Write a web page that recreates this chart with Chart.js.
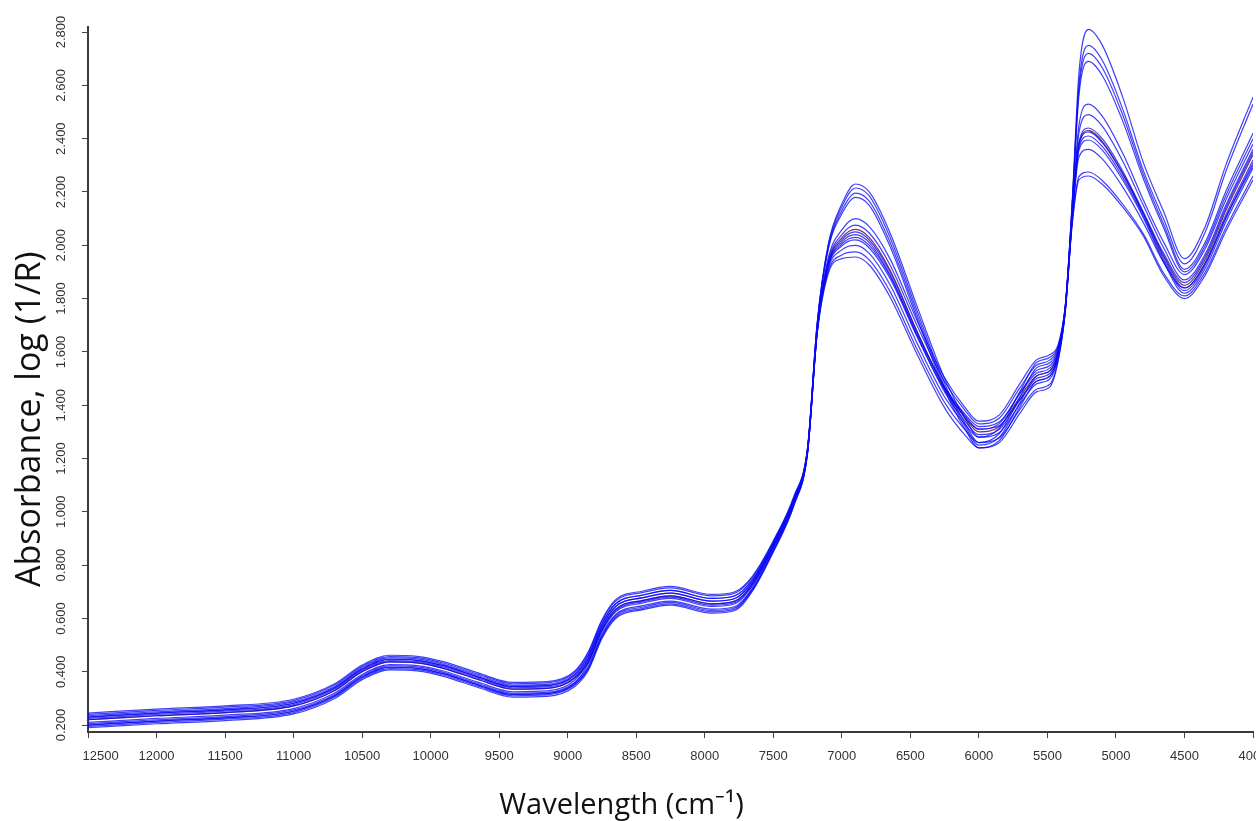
<!DOCTYPE html>
<html><head><meta charset="utf-8">
<script src="https://cdn.jsdelivr.net/npm/chart.js@4.4.1/dist/chart.umd.min.js"></script>
<style>html,body{margin:0;padding:0;background:#fff;overflow:hidden;}</style>
</head><body>
<canvas id="c" width="1256" height="821"></canvas>
<script>
// Wavenumbers (cm-1), descending
const wavenumbers = [12500,12000,11500,11000,10700,10500,10300,10100,9900,9650,9400,9150,8950,8850,8750,8650,8450,8250,7950,7780,7650,7500,7350,7250,7180,7100,7000,6900,6800,6650,6450,6250,6100,6000,5850,5700,5580,5480,5420,5370,5320,5270,5200,5100,4950,4800,4650,4500,4350,4200,4000];

// Absorbance spectra
const specA1 = [0.240,0.255,0.267,0.292,0.350,0.420,0.457,0.453,0.432,0.390,0.355,0.358,0.397,0.470,0.590,0.665,0.698,0.715,0.685,0.695,0.756,0.888,1.055,1.239,1.707,2.002,2.155,2.230,2.200,2.049,1.770,1.500,1.350,1.280,1.314,1.452,1.560,1.580,1.625,1.770,2.157,2.646,2.810,2.751,2.555,2.310,2.124,1.950,2.069,2.298,2.556];
const specA2 = [0.230,0.245,0.257,0.282,0.340,0.410,0.447,0.443,0.422,0.380,0.345,0.348,0.387,0.460,0.580,0.655,0.688,0.705,0.675,0.685,0.748,0.882,1.050,1.236,1.705,1.996,2.144,2.215,2.185,2.032,1.753,1.482,1.331,1.260,1.294,1.432,1.540,1.560,1.615,1.766,2.148,2.604,2.750,2.694,2.510,2.280,2.096,1.930,2.048,2.274,2.530];
const specA3 = [0.220,0.235,0.247,0.272,0.330,0.400,0.437,0.433,0.412,0.370,0.335,0.338,0.377,0.450,0.570,0.645,0.678,0.695,0.665,0.675,0.740,0.876,1.045,1.233,1.702,1.988,2.130,2.196,2.166,2.014,1.738,1.469,1.320,1.250,1.280,1.410,1.510,1.530,1.600,1.760,2.144,2.583,2.720,2.666,2.488,2.265,2.077,1.910,2.010,2.200,2.420];
const specA4 = [0.210,0.225,0.237,0.262,0.320,0.390,0.427,0.423,0.402,0.360,0.325,0.328,0.367,0.440,0.560,0.635,0.668,0.685,0.655,0.665,0.732,0.870,1.040,1.230,1.700,1.982,2.118,2.180,2.150,1.998,1.724,1.457,1.309,1.240,1.268,1.394,1.490,1.510,1.590,1.756,2.139,2.562,2.690,2.637,2.465,2.250,2.063,1.900,1.998,2.184,2.400];
const specB1 = [0.245,0.260,0.272,0.297,0.355,0.425,0.462,0.458,0.437,0.395,0.360,0.363,0.402,0.475,0.595,0.670,0.703,0.720,0.690,0.700,0.760,0.891,1.058,1.241,1.688,1.950,2.058,2.100,2.070,1.951,1.716,1.503,1.391,1.340,1.364,1.482,1.570,1.590,1.630,1.772,2.115,2.450,2.530,2.485,2.345,2.170,2.010,1.890,1.986,2.168,2.380];
const specB2 = [0.235,0.250,0.262,0.287,0.345,0.415,0.452,0.448,0.427,0.385,0.350,0.353,0.391,0.460,0.580,0.655,0.688,0.705,0.675,0.685,0.748,0.882,1.050,1.236,1.684,1.940,2.040,2.076,2.046,1.928,1.698,1.489,1.380,1.330,1.352,1.466,1.550,1.570,1.620,1.768,2.109,2.422,2.490,2.447,2.315,2.150,1.988,1.870,1.966,2.148,2.360];
const specB3 = [0.200,0.215,0.227,0.252,0.310,0.380,0.417,0.413,0.392,0.350,0.315,0.318,0.357,0.430,0.550,0.625,0.658,0.675,0.645,0.655,0.724,0.864,1.035,1.227,1.680,1.930,2.020,2.050,2.020,1.902,1.674,1.467,1.359,1.310,1.332,1.446,1.530,1.550,1.610,1.764,2.102,2.387,2.440,2.400,2.278,2.125,1.968,1.860,1.956,2.138,2.350];
const specB4 = [0.220,0.235,0.247,0.272,0.330,0.400,0.437,0.433,0.412,0.370,0.335,0.338,0.375,0.440,0.560,0.635,0.668,0.685,0.655,0.665,0.732,0.870,1.040,1.230,1.682,1.934,2.028,2.060,2.030,1.909,1.676,1.463,1.351,1.300,1.320,1.430,1.510,1.530,1.600,1.760,2.100,2.380,2.430,2.390,2.270,2.120,1.960,1.850,1.946,2.128,2.340];
const specB5 = [0.230,0.245,0.257,0.282,0.340,0.410,0.447,0.443,0.422,0.380,0.345,0.348,0.385,0.450,0.570,0.645,0.678,0.695,0.665,0.675,0.740,0.876,1.045,1.233,1.677,1.922,2.005,2.030,2.000,1.887,1.666,1.468,1.366,1.320,1.338,1.444,1.520,1.540,1.605,1.762,2.099,2.377,2.425,2.385,2.266,2.118,1.953,1.840,1.934,2.112,2.320];
const specB6 = [0.205,0.220,0.232,0.257,0.315,0.385,0.422,0.418,0.397,0.355,0.320,0.323,0.359,0.420,0.540,0.615,0.648,0.665,0.635,0.645,0.716,0.858,1.030,1.224,1.679,1.926,2.013,2.040,2.010,1.890,1.660,1.450,1.340,1.290,1.310,1.420,1.500,1.520,1.595,1.758,2.097,2.366,2.410,2.371,2.255,2.110,1.944,1.830,1.924,2.102,2.310];
const specB7 = [0.195,0.210,0.222,0.247,0.305,0.375,0.412,0.408,0.387,0.345,0.310,0.313,0.350,0.415,0.535,0.610,0.643,0.660,0.630,0.640,0.712,0.855,1.028,1.223,1.673,1.910,1.983,2.000,1.970,1.854,1.632,1.431,1.327,1.280,1.298,1.404,1.480,1.500,1.585,1.754,2.095,2.356,2.395,2.357,2.244,2.103,1.935,1.820,1.912,2.086,2.290];
const specB8 = [0.225,0.240,0.252,0.277,0.335,0.405,0.442,0.438,0.417,0.375,0.340,0.343,0.378,0.435,0.555,0.630,0.663,0.680,0.650,0.660,0.728,0.867,1.038,1.229,1.676,1.918,1.998,2.020,1.990,1.877,1.656,1.458,1.356,1.310,1.324,1.422,1.490,1.510,1.590,1.756,2.090,2.331,2.360,2.324,2.218,2.085,1.934,1.840,1.930,2.100,2.300];
const specC1 = [0.190,0.205,0.217,0.242,0.300,0.370,0.407,0.403,0.382,0.340,0.305,0.308,0.344,0.405,0.525,0.600,0.633,0.650,0.620,0.630,0.704,0.849,1.023,1.220,1.669,1.900,1.964,1.975,1.945,1.828,1.609,1.410,1.307,1.260,1.278,1.384,1.460,1.480,1.575,1.750,2.077,2.258,2.275,2.243,2.154,2.043,1.894,1.810,1.898,2.064,2.260];
const specC2 = [0.200,0.215,0.227,0.252,0.310,0.380,0.417,0.413,0.392,0.350,0.315,0.318,0.353,0.410,0.530,0.605,0.638,0.655,0.625,0.635,0.708,0.852,1.025,1.221,1.666,1.892,1.950,1.956,1.926,1.808,1.590,1.390,1.287,1.240,1.260,1.370,1.450,1.470,1.570,1.748,2.075,2.245,2.260,2.229,2.143,2.035,1.884,1.800,1.887,2.051,2.245];

const xTickValues = [12500,12000,11500,11000,10500,10000,9500,9000,8500,8000,7500,7000,6500,6000,5500,5000,4500,4000];
const yTickValues = [0.2,0.4,0.6,0.8,1.0,1.2,1.4,1.6,1.8,2.0,2.2,2.4,2.6,2.8];

const spectra = [specA1,specA2,specA3,specA4,specB1,specB2,specB3,specB5,specB6,specB7,specB8,specC1,specC2,specB4];

const datasets = spectra.map((s) => ({
  data: wavenumbers.map((w, j) => ({x: w, y: s[j]})),
  borderColor: (s === specB4) ? 'rgba(110,10,60,0.85)' : 'rgba(10,10,245,0.78)',
  borderWidth: 1.2,
  pointRadius: 0,
  cubicInterpolationMode: 'monotone',
  fill: false
}));

new Chart(document.getElementById('c'), {
  type: 'line',
  data: { datasets },
  options: {
    responsive: false,
    animation: false,
    devicePixelRatio: 1,
    layout: { padding: { left: 0, right: 3, top: 27, bottom: 0 } },
    plugins: { legend: { display: false }, tooltip: { enabled: false } },
    scales: {
      x: {
        type: 'linear', reverse: true, min: 4000, max: 12500,
        afterBuildTicks: s => { s.ticks = xTickValues.map(v => ({ value: v })); },
        afterFit: s => { s.height = 89; s.paddingLeft = 0; s.paddingRight = 0; },
        grid: { display: true, drawOnChartArea: false, drawTicks: true, tickLength: 6, color: '#444', tickWidth: 1 },
        border: { display: true, color: '#3a3a3a', width: 2 },
        ticks: { font: { family: "'Liberation Sans', Arial, sans-serif", size: 13 }, color: '#333', padding: 11, maxRotation: 0, minRotation: 0, autoSkip: false,
                 callback: v => (v === 12500 ? '       ' + v : String(v)) },
        title: { display: true, text: 'Wavelength (cm\u207B\u00B9)' + '             ', font: { family: "'Open Sans', sans-serif", size: 29, lineHeight: 1 }, color: '#111', padding: { top: 0, bottom: 1 } }
      },
      y: {
        type: 'linear', min: 0.174, max: 2.819,
        afterBuildTicks: s => { s.ticks = yTickValues.map(v => ({ value: v })); },
        afterFit: s => { s.width = 88; s.paddingTop = 0; s.paddingBottom = 0; },
        grid: { display: true, drawOnChartArea: false, drawTicks: true, tickLength: 6, color: '#444', tickWidth: 1 },
        border: { display: true, color: '#3a3a3a', width: 2 },
        ticks: { font: { family: "'Liberation Sans', Arial, sans-serif", size: 13 }, color: '#333', padding: 4, minRotation: 90, maxRotation: 90, crossAlign: 'center', autoSkip: false, callback: v => Number(v).toFixed(3) },
        title: { display: true, text: 'Absorbance, log (1/R)' + '         ', font: { family: "'Open Sans', sans-serif", size: 34, lineHeight: 1 }, color: '#111', padding: { top: 13, bottom: 0 } }
      }
    }
  }
});
</script>
</body></html>
